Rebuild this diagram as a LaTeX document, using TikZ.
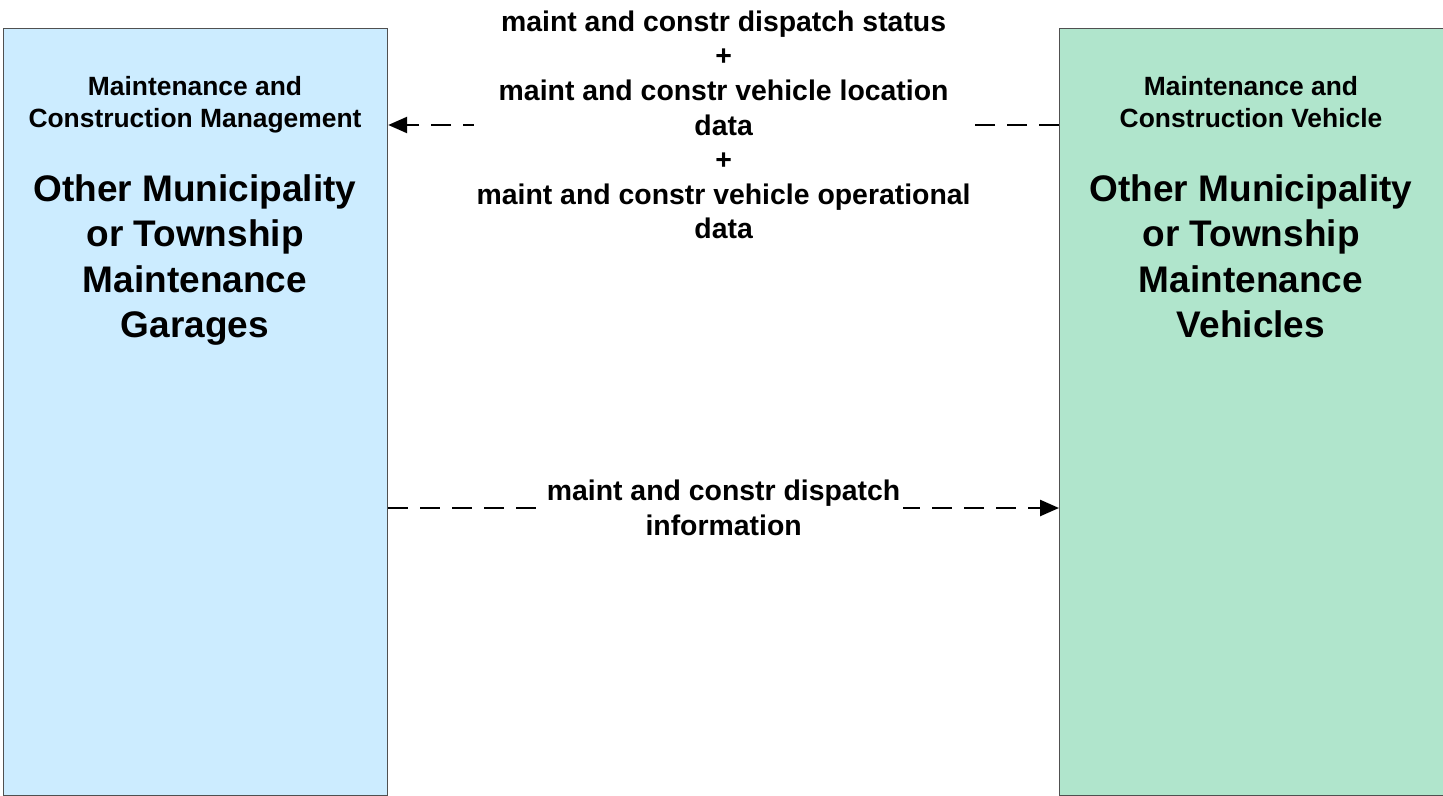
\documentclass[tikz,border=0pt]{standalone}
\usepackage{fontspec}
\setmainfont{Liberation Sans}
\usetikzlibrary{arrows.meta,calc}
\definecolor{leftfill}{HTML}{CCECFF}
\definecolor{rightfill}{HTML}{B0E5CC}
\definecolor{boxline}{HTML}{505050}
\tikzset{
  sysbox/.style={draw=boxline,line width=0.6pt,minimum width=384*0.5pt,minimum height=767*0.5pt,inner sep=0pt,anchor=north west},
  hdr/.style={font=\bfseries\fontsize{13.2}{16}\selectfont,align=center,inner sep=0pt,anchor=north},
  ttl/.style={font=\bfseries\fontsize{18.5}{22.7}\selectfont,align=center,inner sep=0pt,anchor=north},
  lbl/.style={font=\bfseries\fontsize{14.2}{17.3}\selectfont,align=center,fill=white,inner sep=1.5pt},
  flow/.style={line width=1.25pt,dash pattern=on 10pt off 6pt,arrows={-Triangle[length=9.5pt,width=8pt]}}
}
\begin{document}
\begin{tikzpicture}[x=0.5pt,y=-0.5pt]
\useasboundingbox (0,0) rectangle (1443,796);
\node[sysbox,fill=leftfill] (L) at (3,28) {};
\node[sysbox,fill=rightfill,minimum width=386*0.5pt] (R) at (1059,28) {};
\node[hdr] (Lh) at (195,76) {Maintenance and\\Construction Management};
\node[ttl] (Lt) at (195,174) {Other Municipality\\or Township\\Maintenance\\Garages};
\node[hdr] (Rh) at (1251,76) {Maintenance and\\Construction Vehicle};
\node[ttl] (Rt) at (1251,174) {Other Municipality\\or Township\\Maintenance\\Vehicles};
\draw[flow] ($(R.north west)+(0,97)$) -- node[lbl] (l1) {maint and constr dispatch status\\+\\maint and constr vehicle location\\data\\+\\maint and constr vehicle operational\\data} ($(L.north east)+(0,97)$);
\draw[flow] ($(L.north east)+(0,480)$) -- node[lbl] (l2) {maint and constr dispatch\\information} ($(R.north west)+(0,480)$);
\end{tikzpicture}
\end{document}
